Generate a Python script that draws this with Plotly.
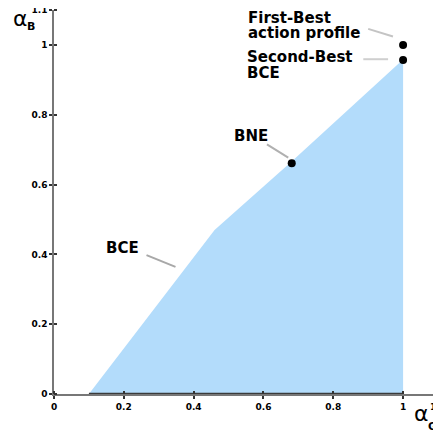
import plotly.graph_objects as go

# BCE region boundary (alpha_G, alpha_B)
region_x = [0.1, 0.46, 0.68, 1.0, 1.0, 0.1]
region_y = [0.0, 0.47, 0.665, 0.958, 0.0, 0.0]

# Bottom edge of region
edge_x = [0.1, 1.0]
edge_y = [0.0, 0.0]

# Marked points
point_names = ["First-Best action profile", "Second-Best BCE", "BNE"]
point_x = [1.0, 1.0, 0.681]
point_y = [1.0, 0.957, 0.661]

tick_vals = [0, 0.2, 0.4, 0.6, 0.8, 1, 1.1]
tick_text = ["0", "0.2", "0.4", "0.6", "0.8", "1", "1.1"]

fig = go.Figure()
fig.add_trace(go.Scatter(x=region_x, y=region_y, mode="lines", fill="toself",
                         fillcolor="#b3dcfb", line=dict(width=0), hoverinfo="skip",
                         showlegend=False))
fig.add_trace(go.Scatter(x=edge_x, y=edge_y, mode="lines",
                         line=dict(color="#3a3a3a", width=2.5), showlegend=False,
                         cliponaxis=False))
fig.add_trace(go.Scatter(x=point_x, y=point_y, mode="markers", text=point_names,
                         marker=dict(color="black", size=8), showlegend=False,
                         cliponaxis=False))

# leader lines
leaders = [
    ((0.900, 1.046), (0.971, 1.024), "#c4c4c4"),
    ((0.886, 0.959), (0.957, 0.959), "#cfcfcf"),
    ((0.610, 0.715), (0.671, 0.677), "#b0b0b0"),
    ((0.265, 0.398), (0.348, 0.364), "#a8a8a8"),
]
for (x0, y0), (x1, y1), c in leaders:
    fig.add_shape(type="line", x0=x0, y0=y0, x1=x1, y1=y1, xref="x", yref="y",
                  line=dict(color=c, width=2))

lab_font = dict(family="DejaVu Sans", size=15, color="black", weight="bold")
labels = [
    ("First-Best", 0.551, 1.076),
    ("action profile", 0.551, 1.033),
    ("Second-Best", 0.548, 0.965),
    ("BCE", 0.548, 0.920),
    ("BNE", 0.510, 0.739),
    ("BCE", 0.1425, 0.419),
]
for t, x, y in labels:
    fig.add_annotation(text=t, x=x, y=y, xref="x", yref="y", xanchor="left",
                       yanchor="middle", showarrow=False, font=lab_font)

# axis titles (alpha with subscript, drawn as two pieces)
alpha_font = dict(family="DejaVu Sans", size=22, color="black")
sub_font = dict(family="DejaVu Sans", size=11, color="black", weight="bold")
fig.add_annotation(text="α", x=-0.0885, y=0.9396, xref="paper", yref="paper",
                   xanchor="center", yanchor="bottom", showarrow=False, font=alpha_font)
fig.add_annotation(text="B", x=-0.061, y=0.958, xref="paper", yref="paper",
                   xanchor="center", yanchor="middle", showarrow=False, font=sub_font)
fig.add_annotation(text="α", x=0.957, y=-0.050, xref="paper", yref="paper",
                   xanchor="center", yanchor="middle", showarrow=False, font=alpha_font)
fig.add_annotation(text="G", x=0.986, y=-0.084, xref="paper", yref="paper",
                   xanchor="center", yanchor="middle", showarrow=False, font=sub_font)

axis_common = dict(range=[0, 1.1], showgrid=False, zeroline=False, showline=True,
                   linecolor="#777777", linewidth=1.5, ticks="outside", ticklen=3,
                   tickcolor="#333333", tickwidth=1.5, tickmode="array",
                   tickvals=tick_vals, ticktext=tick_text, ticklabeloverflow="allow",
                   automargin=False,
                   tickfont=dict(family="DejaVu Sans", size=9, color="black", weight="bold"),
                   minor=dict(tickmode="array", tickvals=tick_vals, ticks="inside",
                              ticklen=3, tickcolor="#333333", tickwidth=1.5))

fig.update_layout(width=441, height=433, margin=dict(l=46, r=11, t=2, b=47),
                  plot_bgcolor="white", paper_bgcolor="white",
                  xaxis=axis_common, yaxis=axis_common)

fig.write_html("out.html")
